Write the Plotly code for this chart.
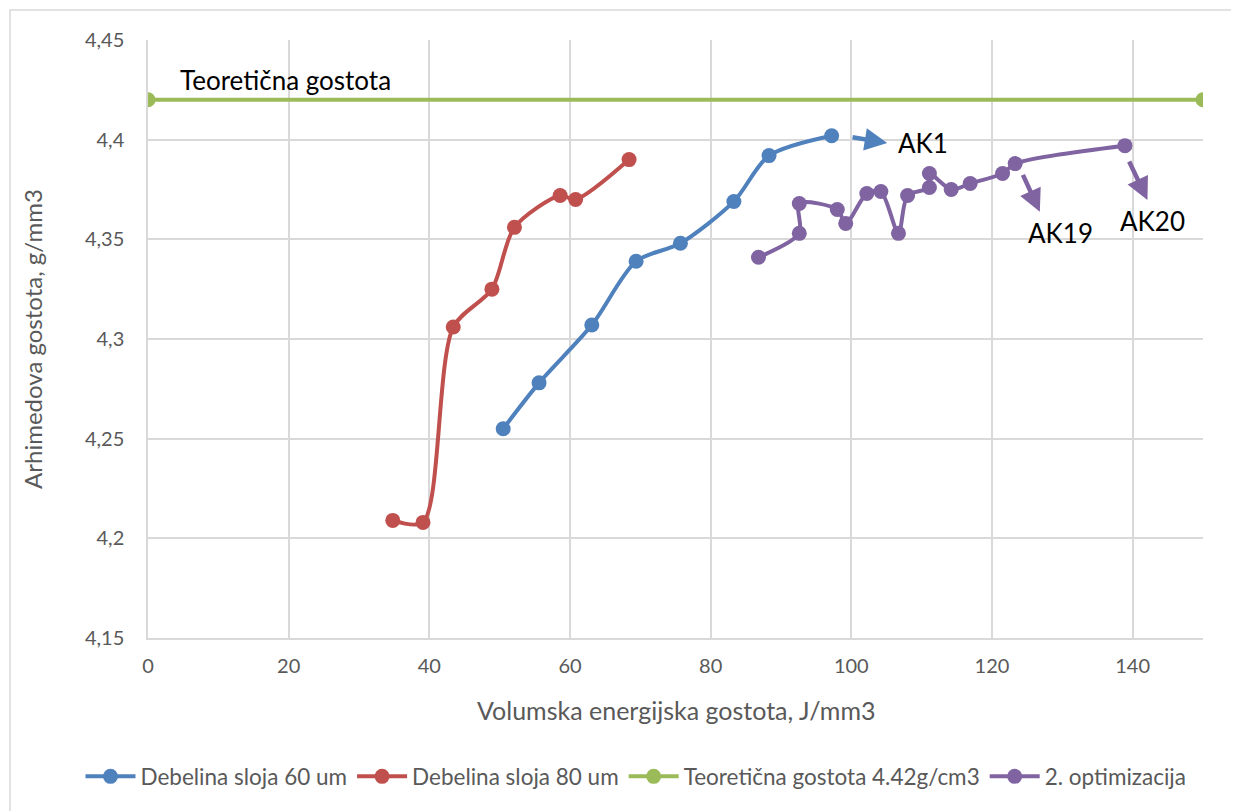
import plotly.graph_objects as go

# ---- data ----
blue_x = [50.5, 55.6, 63.1, 69.4, 75.7, 83.3, 88.3, 97.2]
blue_y = [4.255, 4.278, 4.307, 4.339, 4.348, 4.369, 4.392, 4.402]
red_x = [34.8, 39.1, 43.4, 48.9, 52.1, 58.6, 60.8, 68.4]
red_y = [4.209, 4.208, 4.306, 4.325, 4.356, 4.372, 4.370, 4.390]
green_x = [0, 150]
green_y = [4.42, 4.42]
purple_x = [86.8, 92.6, 92.6, 98.0, 99.2, 102.2, 104.2, 106.7, 108.0, 111.1, 111.1, 114.2, 116.9, 121.5, 123.3, 138.9]
purple_y = [4.341, 4.353, 4.368, 4.365, 4.358, 4.373, 4.374, 4.353, 4.372, 4.376, 4.383, 4.375, 4.378, 4.383, 4.388, 4.397]

series_names = ["Debelina sloja 60 um", "Debelina sloja 80 um",
                "Teoretična gostota 4.42g/cm3", "2. optimizacija"]
y_tickvals = [4.15, 4.2, 4.25, 4.3, 4.35, 4.4, 4.45]
y_ticktext = ["4,15", "4,2", "4,25", "4,3", "4,35", "4,4", "4,45"]
x_tickvals = [0, 20, 40, 60, 80, 100, 120, 140]

FONT = "Lato, 'Open Sans', sans-serif"
GREY = "#595959"
GRID = "#d9d9d9"

colors = ["#4f81bd", "#c0504d", "#9bbb59", "#8064a2"]
data = [(blue_x, blue_y), (red_x, red_y), (green_x, green_y), (purple_x, purple_y)]

fig = go.Figure()
for (xs, ys), name, c in zip(data, series_names, colors):
    fig.add_trace(go.Scatter(
        x=xs, y=ys, name=name, mode="lines+markers",
        line=dict(color=c, width=4, shape="spline", smoothing=0.8),
        marker=dict(color=c, size=15),
    ))

annotations = []
# arrows (tail -> head)
arrows = [
    ((99.96, 4.4013), (105.1, 4.3983), colors[0]),
    ((124.3, 4.3831), (126.8, 4.3638), colors[3]),
    ((139.4, 4.3898), (142.1, 4.3697), colors[3]),
]
for (tx, ty), (hx, hy), c in arrows:
    annotations.append(dict(
        x=hx, y=hy, ax=tx, ay=ty, xref="x", yref="y", axref="x", ayref="y",
        showarrow=True, arrowhead=2, arrowsize=1.0, arrowwidth=4.5, arrowcolor=c, text=""))

labels = [
    ("AK1", 106.4, 4.3983, "left"),
    ("AK19", 129.8, 4.3532, "center"),
    ("AK20", 142.8, 4.3592, "center"),
    ("Teoretična gostota", 4.27, 4.4300, "left"),
]
for t, x, y, anc in labels:
    annotations.append(dict(
        x=x, y=y, xref="x", yref="y", text=t, showarrow=False,
        xanchor=anc, yanchor="middle",
        font=dict(family=FONT, size=26, color="#000000")))

# axis titles
annotations.append(dict(
    x=-0.110, y=0.5, xref="paper", yref="paper", text="Arhimedova gostota, g/mm3",
    textangle=-90, showarrow=False, xanchor="center", yanchor="middle",
    font=dict(family=FONT, size=24, color=GREY)))
annotations.append(dict(
    x=0.5, y=-0.12, xref="paper", yref="paper", text="Volumska energijska gostota, J/mm3",
    showarrow=False, xanchor="center", yanchor="middle",
    font=dict(family=FONT, size=25, color=GREY)))

fig.update_layout(
    width=1239, height=811,
    margin=dict(l=140, r=44, t=32, b=181, autoexpand=False),
    paper_bgcolor="white", plot_bgcolor="white",
    separators=", ",
    font=dict(family=FONT, color=GREY),
    showlegend=True,
    legend=dict(orientation="h", xref="paper", yref="paper",
                x=-0.064, y=-0.232, xanchor="left", yanchor="middle",
                font=dict(family=FONT, size=22.5, color=GREY), itemwidth=50,
                bgcolor="rgba(0,0,0,0)"),
    annotations=annotations,
    shapes=[dict(type="rect", xref="paper", yref="paper",
                 x0=-0.1308, x1=1.04, y0=-0.3, y1=1.050,
                 line=dict(color=GRID, width=1.5), layer="below")],
)
fig.update_xaxes(range=[0, 150], tickvals=x_tickvals, showgrid=True, gridcolor=GRID,
                 gridwidth=1.5, zeroline=False, showline=True, linecolor=GRID, linewidth=1.5,
                 ticks="", ticklabelstandoff=9,
                 tickfont=dict(family=FONT, size=20, color=GREY))
fig.update_yaxes(range=[4.15, 4.45], tickvals=y_tickvals, ticktext=y_ticktext, showgrid=True,
                 gridcolor=GRID, gridwidth=1.5, zeroline=False, showline=True, linecolor=GRID,
                 linewidth=1.5, ticks="", ticklabelstandoff=18,
                 tickfont=dict(family=FONT, size=20, color=GREY))

fig.write_html("out.html")
